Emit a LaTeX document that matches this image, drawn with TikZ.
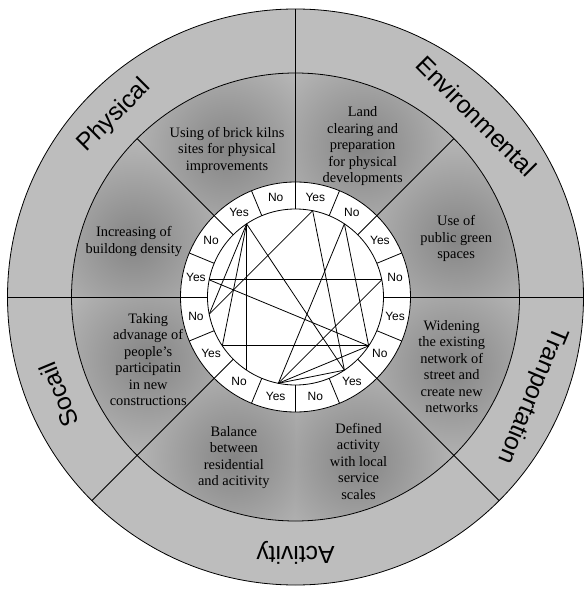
\documentclass[tikz,border=0pt]{standalone}
\usepackage{fontspec}
\setmainfont{Liberation Serif}
\newfontfamily\labelfont{Liberation Sans}
\usetikzlibrary{positioning}
\usepackage{xcolor}

\definecolor{ringgray}{gray}{0.74}
\definecolor{sectorgray}{gray}{0.78}
\definecolor{blobgray}{gray}{0.52}

\tikzset{
  itemtext/.style={font=\fontsize{10.8}{12.4}\selectfont, align=center, inner sep=0pt},
  cattext/.style={font=\labelfont\fontsize{18.5}{20}\selectfont, inner sep=0pt},
  answer/.style={font=\labelfont\fontsize{9}{9}\selectfont, inner sep=0pt},
  chord/.style={line width=0.6pt},
}

\begin{document}
\begin{tikzpicture}[x=0.75pt, y=0.75pt, line width=0.6pt]
\useasboundingbox (-295.5,-292) rectangle (288.5,297);

%rings
\fill[ringgray] (0,0) circle (288);
\fill[sectorgray] (0,0) circle (224);

%shaded sectors
\foreach \a/\r/\b in {115/162/90, 161/171/135, 66/165/45, 20/171/0,
                      -24/171/-45, -69/176/-90, -111/172/-135, -157/160/180}
{
  \begin{scope}
    \clip (0,0) -- (\b:224) arc[start angle=\b, delta angle=45, radius=224] -- cycle;
    \shade[inner color=blobgray, outer color=sectorgray] (\a:\r) circle (135);
  \end{scope}
}

%answer ring
\filldraw[fill=white] (0,0) circle (115);
\draw (0,0) circle (88);
\foreach \t in {0,22.5,...,337.5}
  \draw (\t:88) -- (\t:115);

%dividers
\foreach \t in {45,135}
  \draw (\t:115) -- (\t:224);
\foreach \t in {0,90,180,225,315}
  \draw (\t:115) -- (\t:288);
\draw (0,0) circle (224);
\draw (0,0) circle (288);

%categories
\node[cattext, rotate=45] (physical) at (135:256) {Physical};
\node[cattext, rotate=-45] (environmental) at (45:256) {Environmental};
\node[cattext, rotate=-112.5] (transport) at (-22.5:256) {Tranportation};
\node[cattext, rotate=180] (activity) at (270:256) {Activity};
\node[cattext, rotate=112.5] (social) at (202.5:256) {Socail};

%items
\node[itemtext] (kilns) at (115:162) {Using of brick kilns\\sites for physical\\improvements};
\node[itemtext] (density) at (161:171) {Increasing of\\buildong density};
\node[itemtext] (clearing) at (66:165) {Land\\clearing and\\preparation\\for physical\\developments};
\node[itemtext] (green) at (20:171) {Use of\\public green\\spaces};
\node[itemtext] (street) at (-24:171) {Widening\\the existing\\network of\\street and\\create new\\networks};
\node[itemtext] (service) at (-69:176) {Defined\\activity\\with local\\service\\scales};
\node[itemtext] (balance) at (-111:172) {Balance\\between\\residential\\and acitivity};
\node[itemtext] (people) at (-157:160) {Taking\\advanage of\\people's\\participatin\\in new\\constructions};

%answers
\foreach \t [count=\i] in {78.75,33.75,-11.25,-56.25,-101.25,-146.25,168.75,123.75}
{
  \node[answer] (yes\i) at (\t:101.5) {Yes};
  \coordinate (py\i) at (\t:88);
}
\foreach \t [count=\i] in {56.25,11.25,-33.75,-78.75,-123.75,-168.75,146.25,101.25}
{
  \node[answer] (no\i) at (\t:101.5) {No};
  \coordinate (pn\i) at (\t:88);
}

%links
\draw[chord] (py8) -- (pn5);
\draw[chord] (py8) -- (pn6);
\draw[chord] (py8) -- (py6);
\draw[chord] (py8) -- (py4);
\draw[chord] (py1) -- (pn6);
\draw[chord] (py1) -- (py4);
\draw[chord] (pn1) -- (pn3);
\draw[chord] (pn1) -- (py5);
\draw[chord] (pn2) -- (py7);
\draw[chord] (pn2) -- (py5);
\draw[chord] (py7) -- (pn3);
\draw[chord] (py6) -- (pn3);
\draw[chord] (pn3) -- (py5);
\draw[chord] (py4) -- (py5);

\end{tikzpicture}
\end{document}
